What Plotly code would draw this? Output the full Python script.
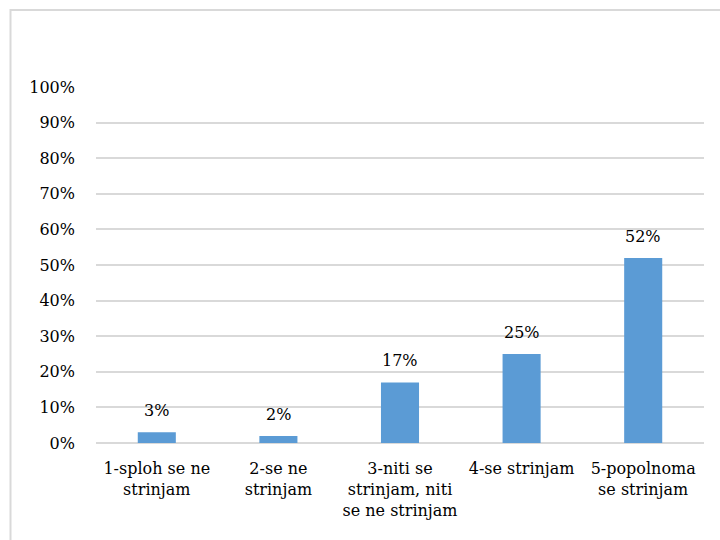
import plotly.graph_objects as go

categories = ["1-sploh se ne<br>strinjam", "2-se ne<br>strinjam", "3-niti se<br>strinjam, niti<br>se ne strinjam", "4-se strinjam", "5-popolnoma<br>se strinjam"]
values = [0.03, 0.02, 0.17, 0.25, 0.52]
labels = ["3%", "2%", "17%", "25%", "52%"]
tick_vals = [i / 10 for i in range(11)]
tick_text = [f"{i*10}%" for i in range(11)]

FONT = "DejaVu Serif"
BAR_COLOR = "#5B9BD5"

fig = go.Figure()
fig.add_trace(go.Bar(
    x=categories, y=values,
    marker=dict(color=BAR_COLOR, line=dict(width=0)),
    hoverinfo="skip",
))

for c, v, t in zip(categories, values, labels):
    fig.add_annotation(x=c, y=v, text=t, showarrow=False, yanchor="bottom",
                       yshift=10, font=dict(family=FONT, size=16, color="#000000"))

# chart frame
L, R, T, B = 96, 16, 87, 97
pw = 720 - L - R
ph = 540 - T - B
def px(x):
    return (x - L) / pw
def py(y):
    return (540 - B - y) / ph
fig.add_shape(type="rect", xref="paper", yref="paper",
              x0=px(10.5), x1=px(730), y0=py(550), y1=py(10),
              line=dict(color="#D9D9D9", width=2), fillcolor="rgba(0,0,0,0)", layer="below")

fig.update_layout(
    width=720, height=540,
    margin=dict(l=L, r=R, t=T, b=B),
    paper_bgcolor="white", plot_bgcolor="white",
    bargap=0.687,
    showlegend=False,
    font=dict(family=FONT, size=16, color="#000000"),
    xaxis=dict(showgrid=False, showline=False, ticks="", tickangle=0,
               ticklabelstandoff=14,
               tickfont=dict(family=FONT, size=16, color="#000000")),
    yaxis=dict(range=[0, 1.0], tickvals=tick_vals, ticktext=tick_text,
               showgrid=True, gridcolor="#D9D9D9", gridwidth=1.5,
               zeroline=True, zerolinecolor="#D9D9D9", zerolinewidth=1.5,
               showline=False, ticks="", ticklabelstandoff=20,
               tickfont=dict(family=FONT, size=16, color="#000000")),
)

fig.write_html("out.html")
